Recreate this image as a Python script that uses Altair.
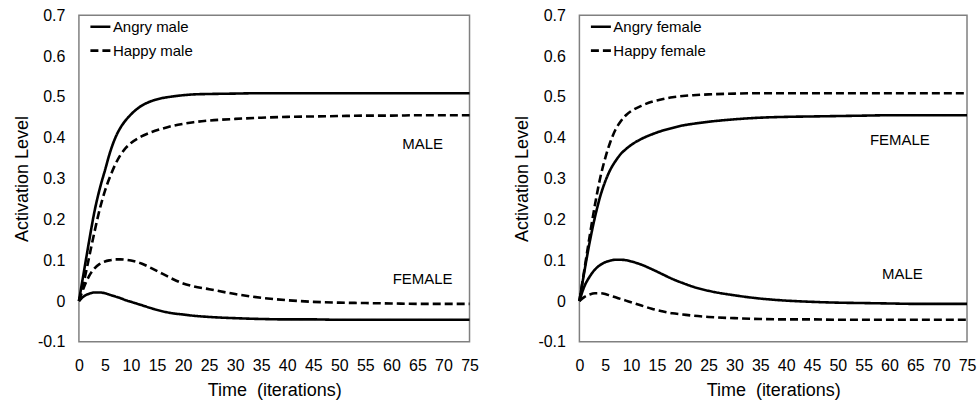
import altair as alt
import pandas as pd

FONT = "Arial, Liberation Sans, sans-serif"

t = [0, 1, 2, 3, 4, 5, 6, 7, 8, 9, 10, 12, 14, 16, 18, 20, 22, 25, 30, 35, 40, 45, 50, 55, 60, 65, 70, 75]

# Left panel (male faces)
angry_male_top = [0, 0.075, 0.15, 0.22, 0.275, 0.32, 0.365, 0.40, 0.425, 0.443, 0.457, 0.478, 0.49, 0.497, 0.501,
                  0.504, 0.506, 0.507, 0.508, 0.509, 0.509, 0.509, 0.509, 0.509, 0.509, 0.509, 0.509, 0.509]
happy_male_top = [0, 0.05, 0.11, 0.17, 0.225, 0.27, 0.305, 0.335, 0.358, 0.375, 0.387, 0.403, 0.414, 0.422, 0.429,
                  0.434, 0.438, 0.442, 0.446, 0.449, 0.451, 0.452, 0.453, 0.454, 0.454, 0.455, 0.455, 0.455]
happy_male_low = [0, 0.035, 0.062, 0.08, 0.091, 0.097, 0.1, 0.102, 0.102, 0.101, 0.099, 0.092, 0.08, 0.067, 0.054,
                  0.043, 0.036, 0.029, 0.017, 0.008, 0.002, -0.002, -0.004, -0.005, -0.006, -0.007, -0.007, -0.007]
angry_male_low = [0, 0.012, 0.018, 0.021, 0.021, 0.019, 0.015, 0.011, 0.007, 0.002, -0.002, -0.01, -0.018, -0.025,
                  -0.03, -0.033, -0.036, -0.039, -0.042, -0.044, -0.045, -0.045, -0.046, -0.046, -0.046, -0.046,
                  -0.046, -0.046]

# Right panel (female faces)
happy_female_top = [0, 0.08, 0.16, 0.235, 0.3, 0.35, 0.39, 0.42, 0.44, 0.455, 0.465, 0.478, 0.488, 0.494, 0.499,
                    0.502, 0.504, 0.506, 0.508, 0.509, 0.509, 0.509, 0.509, 0.509, 0.509, 0.509, 0.509, 0.509]
angry_female_top = [0, 0.075, 0.145, 0.205, 0.255, 0.293, 0.322, 0.343, 0.36, 0.372, 0.382, 0.397, 0.408, 0.417,
                    0.424, 0.43, 0.434, 0.439, 0.445, 0.449, 0.451, 0.452, 0.453, 0.454, 0.455, 0.455, 0.455, 0.455]
angry_female_low = [0, 0.037, 0.06, 0.077, 0.088, 0.095, 0.099, 0.101, 0.101, 0.1, 0.097, 0.089, 0.078, 0.066,
                    0.054, 0.044, 0.035, 0.025, 0.014, 0.006, 0.001, -0.002, -0.004, -0.005, -0.006, -0.007,
                    -0.007, -0.007]
happy_female_low = [0, 0.01, 0.016, 0.019, 0.019, 0.017, 0.013, 0.009, 0.005, 0.001, -0.003, -0.011, -0.019,
                    -0.025, -0.03, -0.033, -0.036, -0.039, -0.042, -0.044, -0.045, -0.045, -0.046, -0.046, -0.046,
                    -0.046, -0.046, -0.046]

left_labels = ["Angry male", "Happy male"]
right_labels = ["Angry female", "Happy female"]
left_notes = ["MALE", "FEMALE"]
left_note_x = [66, 66]
left_note_y = [0.385, 0.055]
right_notes = ["FEMALE", "MALE"]
right_note_x = [62, 62.5]
right_note_y = [0.395, 0.065]

x_ticks = list(range(0, 80, 5))
y_ticks = [-0.1, 0, 0.1, 0.2, 0.3, 0.4, 0.5, 0.6, 0.7]


def long(series):
    rows = []
    for curve, label, vals in series:
        for ti, v in zip(t, vals):
            rows.append({"t": ti, "v": v, "curve": curve, "label": label})
    return pd.DataFrame(rows)


def panel(df, labels, notes, nx, ny, w):
    x = alt.X("t:Q", scale=alt.Scale(domain=[0, 75], nice=False),
              axis=alt.Axis(values=x_ticks, title="Time \u00a0(iterations)", labelPadding=16,
                            titlePadding=8, labelFlush=False, labelOverlap=False, tickCount=16))
    y = alt.Y("v:Q", scale=alt.Scale(domain=[-0.1, 0.7], nice=False),
              axis=alt.Axis(values=y_ticks, title="Activation Level", labelPadding=14, titlePadding=6,
                            labelFlush=False, labelOverlap=False,
                            labelExpr="datum.value < 0 ? '-' + format(-datum.value, '.1~f') : format(datum.value, '.1~f')"))
    lines = alt.Chart(df).mark_line(color="black", strokeWidth=2.6, interpolate="monotone").encode(
        x=x, y=y,
        detail="curve:N",
        strokeDash=alt.StrokeDash(
            "label:N",
            scale=alt.Scale(domain=labels, range=[[1, 0], [8, 4]]),
            legend=alt.Legend(orient="none", legendX=10, legendY=0, title=None, symbolType="stroke",
                              symbolSize=400, symbolStrokeWidth=2.6, symbolStrokeColor="black",
                              labelFont=FONT, labelFontSize=15, labelColor="black", labelOffset=1,
                              rowPadding=4, padding=0),
        ),
    )
    ndf = pd.DataFrame({"t": nx, "v": ny, "txt": notes})
    text = alt.Chart(ndf).mark_text(font=FONT, fontSize=15, color="black", align="center",
                                    baseline="middle").encode(x=x, y=y, text="txt:N")
    return alt.layer(lines, text).properties(width=w, height=327)


left_df = long([("a_top", left_labels[0], angry_male_top), ("h_top", left_labels[1], happy_male_top),
                ("h_low", left_labels[1], happy_male_low), ("a_low", left_labels[0], angry_male_low)])
right_df = long([("h_top", right_labels[1], happy_female_top), ("a_top", right_labels[0], angry_female_top),
                 ("a_low", right_labels[0], angry_female_low), ("h_low", right_labels[1], happy_female_low)])

chart = alt.hconcat(
    panel(left_df, left_labels, left_notes, left_note_x, left_note_y, 391),
    panel(right_df, right_labels, right_notes, right_note_x, right_note_y, 388),
    spacing=33,
).resolve_scale(strokeDash="independent").resolve_legend(strokeDash="independent").configure_axis(
    domain=False, ticks=False, grid=False,
    labelFont=FONT, labelFontSize=16, labelColor="black",
    titleFont=FONT, titleFontSize=18, titleFontWeight="normal", titleColor="black",
).configure_view(stroke="#808080", strokeWidth=1.5).properties(
    padding={"left": 12, "top": 6, "right": 0, "bottom": 0}, background="white"
)

chart.save("out.html", embed_options={"renderer": "svg", "actions": False})
